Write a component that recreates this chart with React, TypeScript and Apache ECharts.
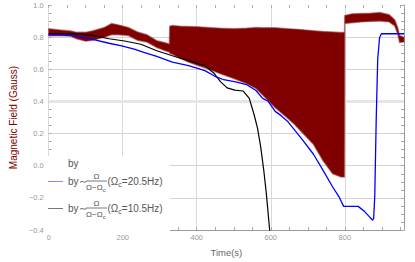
import React, { useEffect, useRef } from 'react';
import * as echarts from 'echarts';

const FONT = '"Liberation Sans", Arial, sans-serif';

// Axis ranges
const X_MIN = 0;
const X_MAX = 960;
const Y_MIN = -0.4;
const Y_MAX = 1.0;

// Legend labels
const legendLabels = ['by', 'by∼', 'by∼'];
const legendOmegaC = ['20.5Hz', '10.5Hz'];

// Black curve: by ~ Ω/(Ω−Ωc), Ωc = 10.5 Hz
const blackTime = [0, 75, 119, 163, 205, 249, 292, 334, 378, 422, 448, 464, 482, 503, 525, 542, 555, 564, 573, 581, 588, 597, 602];
const blackField = [0.82, 0.821, 0.811, 0.79, 0.776, 0.756, 0.715, 0.684, 0.653, 0.623, 0.572, 0.523, 0.484, 0.47, 0.465, 0.419, 0.317, 0.236, 0.114, -0.027, -0.172, -0.4, -0.47];

// Blue curve: by ~ Ω/(Ω−Ωc), Ωc = 20.5 Hz
const blueTime = [0, 54, 75, 101, 119, 163, 197, 231, 257, 292, 334, 378, 422, 448, 473, 508, 534, 560, 578, 593, 612, 629, 645, 681, 715, 741, 767, 784, 797, 836, 853, 865, 875, 878, 881, 885, 889, 894, 899, 960];
const blueField = [0.814, 0.812, 0.806, 0.796, 0.786, 0.762, 0.745, 0.725, 0.705, 0.68, 0.644, 0.623, 0.592, 0.558, 0.535, 0.52, 0.505, 0.468, 0.419, 0.401, 0.338, 0.31, 0.277, 0.175, 0.073, -0.027, -0.131, -0.192, -0.253, -0.253, -0.284, -0.314, -0.339, -0.327, -0.192, 0.297, 0.664, 0.798, 0.821, 0.821];

// Measured "by" signal: envelope of the fast oscillation
const redTime = [0, 30, 60, 75, 100, 120, 150, 170, 190, 215, 240, 265, 292, 315, 326, 327, 334, 355, 378, 405, 430, 464, 500, 534, 560, 578, 612, 645, 663, 681, 715, 741, 767, 790, 799, 800, 820, 845, 870, 895, 920, 935, 943, 948, 960];
const redUpper = [0.852, 0.845, 0.838, 0.83, 0.83, 0.84, 0.86, 0.885, 0.875, 0.86, 0.832, 0.815, 0.778, 0.765, 0.757, 0.868, 0.872, 0.868, 0.866, 0.864, 0.86, 0.855, 0.853, 0.855, 0.86, 0.858, 0.858, 0.853, 0.85, 0.847, 0.84, 0.835, 0.832, 0.829, 0.83, 0.935, 0.945, 0.947, 0.949, 0.953, 0.94, 0.908, 0.86, 0.81, 0.8];
const redLower = [0.808, 0.81, 0.805, 0.79, 0.775, 0.78, 0.8, 0.815, 0.815, 0.81, 0.78, 0.77, 0.735, 0.715, 0.707, 0.7, 0.694, 0.668, 0.644, 0.622, 0.603, 0.572, 0.542, 0.511, 0.48, 0.44, 0.36, 0.297, 0.26, 0.216, 0.134, 0.032, -0.05, -0.07, -0.07, 0.885, 0.89, 0.895, 0.898, 0.9, 0.895, 0.87, 0.82, 0.767, 0.77];

const emphasisGrid = 0.4;

const pairs = (xs: number[], ys: number[]) => xs.map((x, i) => [x, ys[i]]);

export default function App() {
  const ref = useRef<HTMLDivElement>(null);
  useEffect(() => {
    if (!ref.current) return;
    const chart = echarts.init(ref.current, null, { renderer: 'svg' });
    const yFmt = (v: number) => {
      if (Math.abs(v) < 1e-9) return '0.0';
      return (v < 0 ? '−' : '') + Math.abs(v).toFixed(1);
    };
    const tickLine = { color: '#aaa', width: 1 };
    const TXT = '#555';
    const legendRow = (y: number, color: string, omega: string, label: string) => [
      { type: 'line', z: 20, shape: { x1: 48, y1: y, x2: 63, y2: y }, style: { stroke: color, lineWidth: 1 } },
      { type: 'text', z: 20, x: 68, y: y, style: { fill: TXT, fontFamily: FONT, text: label, fontSize: 10, verticalAlign: 'middle', align: 'left' } },
      { type: 'text', z: 20, x: 96.5, y: y - 5, style: { fill: TXT, fontFamily: FONT, text: 'Ω', fontSize: 8, verticalAlign: 'middle', align: 'center' } },
      { type: 'line', z: 20, shape: { x1: 86, y1: y - 0.5, x2: 107, y2: y - 0.5 }, style: { stroke: TXT, lineWidth: 0.8 } },
      {
        type: 'text', z: 20, x: 86, y: y + 1, style: {
          fill: TXT, fontFamily: FONT, text: '{a|Ω−Ω}{b|c}', verticalAlign: 'top', align: 'left',
          rich: { a: { fontSize: 8, fill: TXT, fontFamily: FONT, lineHeight: 10 }, b: { fontSize: 6, fill: TXT, fontFamily: FONT, lineHeight: 10, padding: [4, 0, 0, 0] } },
        },
      },
      {
        type: 'text', z: 20, x: 107.5, y: y, style: {
          fill: TXT, fontFamily: FONT, text: '{a|(Ω}{b|c}{a|=' + omega + ')}', verticalAlign: 'middle', align: 'left',
          rich: { a: { fontSize: 10, fill: TXT, fontFamily: FONT, lineHeight: 12 }, b: { fontSize: 7, fill: TXT, fontFamily: FONT, lineHeight: 12, padding: [5, 0, 0, 0] } },
        },
      },
    ];
    const option: any = {
      animation: false,
      grid: { left: 34, right: 11, top: 5, bottom: 28 },
      xAxis: [
        {
          type: 'value', min: X_MIN, max: X_MAX, interval: 200, position: 'bottom',
          name: 'Time(s)', nameLocation: 'middle', nameGap: 17,
          nameTextStyle: { color: '#666', fontSize: 9.5, fontFamily: FONT },
          axisLine: { show: true, onZero: false, lineStyle: { color: '#999', width: 1 } },
          axisTick: { show: false },
          axisLabel: {
            color: '#999', fontSize: 7.5, fontFamily: FONT, margin: 3,
            formatter: (v: number) => (v % 200 === 0 ? String(v) : ''),
          },
          splitLine: { show: true, showMaxLine: false, lineStyle: { color: '#d9d9d9', width: 1 } },
        },
        {
          type: 'value', min: X_MIN, max: X_MAX, interval: 50, position: 'bottom',
          axisLine: { show: false, onZero: false },
          axisTick: { show: true, inside: true, length: 3, lineStyle: tickLine },
          axisLabel: { show: false }, splitLine: { show: false },
        },
        {
          type: 'value', min: X_MIN, max: X_MAX, interval: 50, position: 'top',
          axisLine: { show: false, onZero: false },
          axisTick: { show: true, inside: true, length: 3, lineStyle: tickLine },
          axisLabel: { show: false }, splitLine: { show: false },
        },
      ],
      yAxis: [
        {
          type: 'value', min: Y_MIN, max: Y_MAX, interval: 0.2, position: 'left',
          name: 'Magnetic Field (Gauss)', nameLocation: 'middle', nameGap: 23,
          nameTextStyle: { color: '#800000', fontSize: 10, fontFamily: FONT },
          axisLine: { show: false, onZero: false },
          axisTick: { show: false },
          axisLabel: { color: '#999', fontSize: 7.5, fontFamily: FONT, margin: 5, formatter: yFmt },
          splitLine: { show: true, showMaxLine: false, showMinLine: false, lineStyle: { color: '#d4d4d4', width: 1 } },
        },
        {
          type: 'value', min: Y_MIN, max: Y_MAX, interval: 0.05, position: 'left',
          axisLine: { show: false, onZero: false },
          axisTick: { show: true, inside: true, length: 3, lineStyle: tickLine },
          axisLabel: { show: false }, splitLine: { show: false },
        },
        {
          type: 'value', min: Y_MIN, max: Y_MAX, interval: 0.05, position: 'right',
          axisLine: { show: true, onZero: false, lineStyle: { color: '#999', width: 1 } },
          axisTick: { show: true, inside: true, length: 3, lineStyle: tickLine },
          axisLabel: { show: false }, splitLine: { show: false },
        },
      ],
      series: [
        {
          type: 'line', silent: true, z: 1, symbol: 'none',
          data: [[X_MIN, emphasisGrid], [X_MAX, emphasisGrid]],
          lineStyle: { color: '#e6e6e6', width: 3 },
        },
        {
          type: 'custom', z: 2, clip: true, silent: true,
          data: [[0, 0]],
          encode: { x: 0, y: 1 },
          renderItem: (_params: any, api: any) => {
            const up = redTime.map((t, i) => api.coord([t, redUpper[i]]));
            const lo = redTime.map((t, i) => api.coord([t, redLower[i]])).reverse();
            return {
              type: 'polygon',
              shape: { points: up.concat(lo) },
              style: { fill: '#800000', stroke: 'rgba(150,50,50,0.55)', lineWidth: 1.4 },
            };
          },
        },
        {
          type: 'line', z: 3, symbol: 'none', silent: true,
          data: pairs(blackTime, blackField),
          lineStyle: { color: '#000', width: 1.2 },
        },
        {
          type: 'line', z: 4, symbol: 'none', silent: true,
          data: pairs(blueTime, blueField),
          lineStyle: { color: '#0000ff', width: 1.3 },
        },
      ],
      graphic: [
        { type: 'rect', z: 10, shape: { x: 44, y: 156, width: 126, height: 76 }, style: { fill: '#fff' } },
        { type: 'text', z: 20, x: 68, y: 163.5, style: { fill: TXT, fontFamily: FONT, text: legendLabels[0], fontSize: 10, verticalAlign: 'middle', align: 'left' } },
        ...legendRow(181.5, '#8888ff', legendOmegaC[0], legendLabels[1]),
        ...legendRow(208.5, '#777', legendOmegaC[1], legendLabels[2]),
      ],
    };
    chart.setOption(option);
    return () => chart.dispose();
  }, []);
  return <div ref={ref} style={{ width: 415, height: 262, position: 'absolute', left: 0, top: 0 }} />;
}
